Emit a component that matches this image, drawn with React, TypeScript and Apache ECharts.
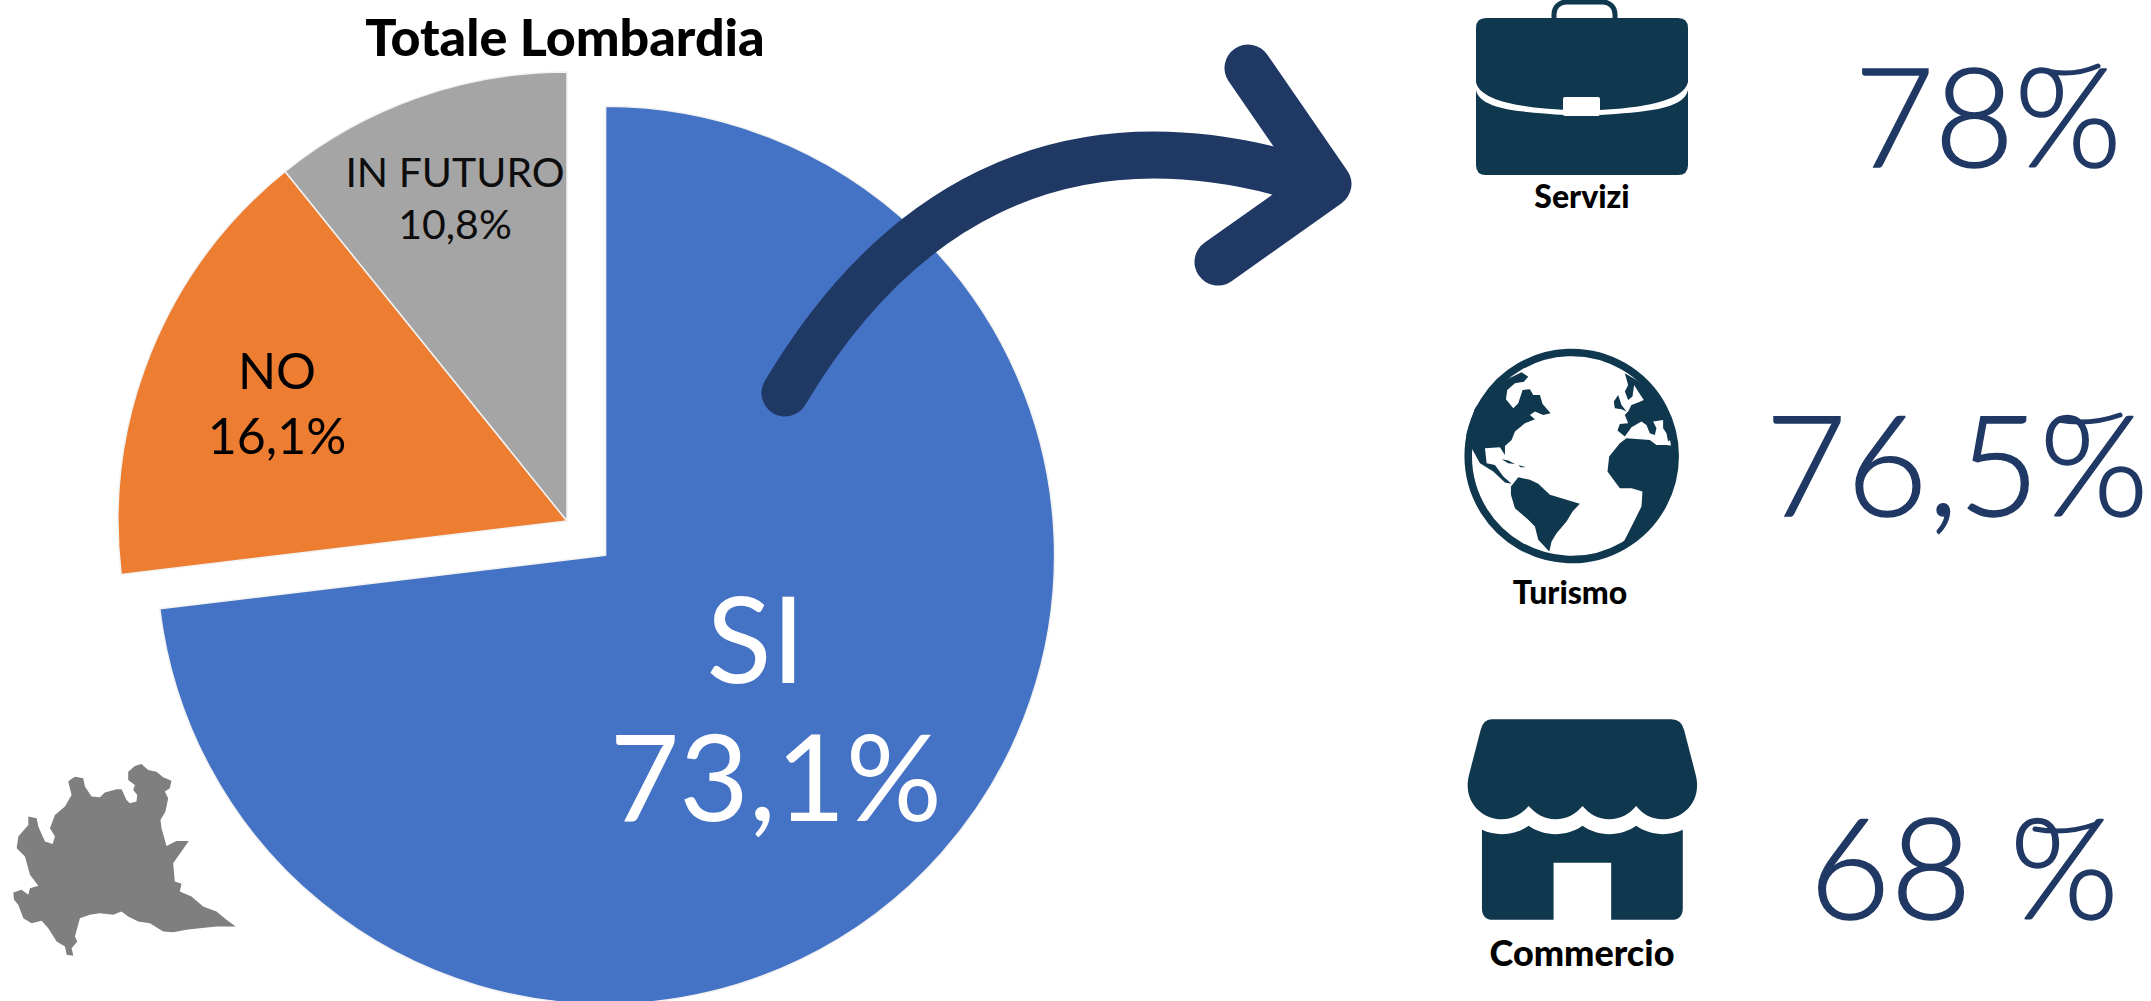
import React, { useEffect, useRef } from "react";
import * as echarts from "echarts";

const categories = ["SI", "NO", "IN FUTURO"];
const shares = [73.1, 16.1, 10.8];
const sliceColors = ["#4472C4", "#ED7D31", "#A5A5A5"];
const labelColors = ["#FFFFFF", "#000000", "#0D0D0D"];
const labelSizes = [120, 50, 41];
const labelLineHeights = [138, 65, 52];
const labelX = [784, 277, 455];
const labelY = [720, 402, 197];

const chartTitle = "Totale Lombardia";
const sectorNames = ["Servizi", "Turismo", "Commercio"];
const sectorValues = ["78%", "76,5%", "68 %"];
const sectorNameX = [1582, 1570, 1582];
const sectorNameY = [195, 591, 952];
const sectorNameSizes = [32, 32, 36];
const sectorValueX = [1988, 1957, 1964];
const sectorValueY = [113, 462, 865];
const sectorValueSizes = [138, 140, 140];
const swashStartX = [2047, 2058, 2035];
const swashEndX = [2098, 2120, 2096];
const swashY = [70, 419, 828];

const ICON = "#0F374E";
const NAVY = "#203864";
const FONT = "Lato, 'Noto Sans', sans-serif";

const LOMBARDY = "M210 120L225 110L250 115L255 140L275 170L300 172L315 158L350 148L365 148L380 180L390 190L410 185L412 165L400 150L405 135L385 120L385 95L405 78L425 72L445 90L470 95L490 112L515 122L510 145L495 155L505 175L497 215L482 240L485 265L495 300L500 318L530 303L567 303L520 370L525 425L545 432L540 455L575 470L610 500L650 515L680 540L708 560L650 560L600 565L560 570L520 577L490 575L450 550L415 545L385 530L365 515L340 525L300 520L270 525L240 535L225 590L232 605L215 625L220 648L200 645L195 620L170 605L145 565L125 543L95 550L70 535L55 495L42 480L40 458L65 450L85 465L90 445L115 438L90 405L75 350L50 325L55 290L85 255L85 230L110 235L115 260L135 305L158 312L165 290L150 265L165 225L195 200L215 165L205 125Z";

const STORE = "M125 58H665Q695 58 703 90L738 225Q742 240 742 255C742 320 690 358 640 358C605 358 578 342 559 318C540 342 510 358 478 358C446 358 418 342 398 318C378 342 350 358 317 358C285 358 258 342 236 318C216 342 190 358 155 358C105 358 53 320 53 255Q53 240 57 225L92 90Q100 58 125 58ZM96 390Q125 403 155 403C185 403 212 395 236 378C260 395 288 403 317 403C346 403 374 395 398 378C422 395 450 403 478 403C508 403 535 395 559 378C583 395 612 403 640 403Q670 403 699 390V625Q699 660 665 660H484V489H311V660H130Q96 660 96 625Z";

const GLOBE_LAND = "M178 115L215 97L235 110L222 125L195 130L172 150L168 178L190 205L205 190L218 150L240 148L250 165L270 165L278 192L302 220L280 225L255 215L240 225L255 238L225 250L195 275L185 300L165 318L165 345L150 322L105 325L110 370L135 375L160 410L185 432L165 428L130 395L90 370L65 325L45 345L50 280L75 205L120 150Z"
  + "M155 358L175 362L195 372L175 370ZM205 375L228 382L212 382Z"
  + "M183 440L205 412L240 420L265 432L300 465L390 492L368 515L350 545L320 580L305 605L298 635L265 600L255 560L235 540L195 505L183 465Z"
  + "M478 350L510 310L530 295L600 300L620 315L650 315L682 320L684 348L678 410L655 470L615 540L560 590L522 606L550 550L575 500L578 455L545 445L510 445L495 425L473 395Z"
  + "M525 100L535 135L525 155L535 180L548 170L553 135L565 155L582 180L565 188L545 195L535 215L525 225L535 250L510 252L503 272L525 290L545 262L575 245L590 255L600 280L615 285L620 265L610 245L640 240L640 265L650 280L655 305L676 290L640 190L600 150L560 120Z"
  + "M492 185L505 165L515 195L530 215L515 208L495 205Z";

const BRIEFCASE_BODY = "M10 0H202Q212 0 212 10V147Q212 157 202 157H10Q0 157 0 147V10Q0 0 10 0Z";
const BRIEFCASE_BAND = "M0 64C4 84 50 90 90 92L90 97C46 94 4 92 0 72ZM212 64C208 84 162 90 124 92L124 97C166 94 208 92 212 72Z";

echarts.graphic.registerShape("lombardy", echarts.graphic.extendPath(LOMBARDY, {}) as any);
echarts.graphic.registerShape("store", echarts.graphic.extendPath(STORE, {}) as any);
echarts.graphic.registerShape("land", echarts.graphic.extendPath(GLOBE_LAND, {}) as any);
echarts.graphic.registerShape("caseBody", echarts.graphic.extendPath(BRIEFCASE_BODY, {}) as any);
echarts.graphic.registerShape("caseBand", echarts.graphic.extendPath(BRIEFCASE_BAND, {}) as any);

export default function App() {
  const ref = useRef<HTMLDivElement>(null);
  useEffect(() => {
    document.body.style.margin = "0";
    const chart = echarts.init(ref.current!, undefined, { renderer: "svg" });
    const arrowStroke = { stroke: "#1F3864", fill: "none", lineWidth: 47, lineCap: "round", lineJoin: "round" };
    const graphics: any[] = [
      { type: "text", z: 5, x: 565, y: 36, style: { text: chartTitle, font: `900 52px ${FONT}`, fill: "#000", align: "center", verticalAlign: "middle" } },
      { type: "lombardy", z: 5, x: 0, y: 740, scaleX: 1 / 3, scaleY: 1 / 3, style: { fill: "#7F7F7F" } },
      { type: "bezierCurve", z: 6, shape: { x1: 785, y1: 393, cpx1: 885, cpy1: 225, cpx2: 1050, cpy2: 95, x2: 1320, y2: 184 }, style: arrowStroke },
      { type: "polyline", z: 6, shape: { points: [[1248, 68], [1328, 184], [1218, 262]] }, style: arrowStroke },
      // briefcase
      { type: "rect", z: 5, shape: { x: 1554, y: 2, width: 61, height: 40, r: 12 }, style: { fill: "none", stroke: ICON, lineWidth: 5 } },
      { type: "caseBody", z: 6, x: 1476, y: 18, style: { fill: ICON } },
      { type: "caseBand", z: 7, x: 1476, y: 18, style: { fill: "#fff" } },
      { type: "rect", z: 7, shape: { x: 1563, y: 97, width: 37, height: 19, r: 2 }, style: { fill: "#fff" } },
      // globe
      { type: "circle", z: 5, shape: { cx: 1571.7, cy: 456, r: 103.5 }, style: { fill: "#fff", stroke: ICON, lineWidth: 7.5 } },
      { type: "land", z: 6, x: 1450, y: 340, scaleX: 1 / 3, scaleY: 1 / 3, style: { fill: ICON } },
      // store
      { type: "store", z: 5, x: 1450, y: 700, scaleX: 1 / 3, scaleY: 1 / 3, style: { fill: ICON } },
    ];
    sectorNames.forEach((name, i) => {
      graphics.push({ type: "text", z: 8, x: sectorNameX[i], y: sectorNameY[i], style: { text: name, font: `900 ${sectorNameSizes[i]}px ${FONT}`, fill: "#000", align: "center", verticalAlign: "middle" } });
    });
    sectorValues.forEach((value, i) => {
      graphics.push({ type: "text", z: 8, x: sectorValueX[i], y: sectorValueY[i], style: { text: value, font: `300 ${sectorValueSizes[i]}px ${FONT}`, fill: NAVY, stroke: NAVY, lineWidth: 1.5, align: "center", verticalAlign: "middle" } });
      graphics.push({
        type: "bezierCurve", z: 8,
        shape: { x1: swashStartX[i], y1: swashY[i] + 1, x2: swashEndX[i], y2: swashY[i] - 4, cpx1: (swashStartX[i] + swashEndX[i]) / 2, cpy1: swashY[i] + 7 },
        style: { stroke: NAVY, fill: "none", lineWidth: 5, lineCap: "round" },
      });
    });
    const fmtValue = (v: number) => `${String(v).replace(".", ",")}%`;
    chart.setOption({
      animation: false,
      backgroundColor: "#fff",
      graphic: graphics,
      series: [
        {
          type: "pie",
          center: [567, 521],
          radius: [0, 449],
          startAngle: 90,
          clockwise: true,
          selectedMode: "single",
          selectedOffset: 51.6,
          avoidLabelOverlap: false,
          emphasis: { disabled: true },
          labelLine: { show: false },
          itemStyle: { borderColor: "#F2F2F2", borderWidth: 1.5 },
          select: { itemStyle: { borderColor: "#F2F2F2", borderWidth: 1.5 } },
          label: {
            show: true,
            position: "inside",
            rotate: 0,
            fontFamily: FONT,
            formatter: (p: any) =>
              p.dataIndex === 0
                ? `{n|${p.name}}\n{v|${fmtValue(p.value)}}`
                : `${p.name}\n${fmtValue(p.value)}`,
            rich: {
              n: { color: "#fff", fontFamily: FONT, fontSize: labelSizes[0], lineHeight: labelLineHeights[0], padding: [0, 40, 0, 0] },
              v: { color: "#fff", fontFamily: FONT, fontSize: labelSizes[0], lineHeight: labelLineHeights[0] },
            },
          },
          labelLayout: (p: any) => ({ x: labelX[p.dataIndex], y: labelY[p.dataIndex], align: "center", verticalAlign: "middle" }),
          data: categories.map((name, i) => ({
            name,
            value: shares[i],
            selected: i === 0,
            itemStyle: { color: sliceColors[i] },
            label: { color: labelColors[i], fontSize: labelSizes[i], lineHeight: labelLineHeights[i] },
            select: { label: { color: labelColors[i], fontSize: labelSizes[i], lineHeight: labelLineHeights[i] } },
          })),
        },
      ],
    });
    return () => chart.dispose();
  }, []);
  return (
    <div style={{ position: "absolute", left: 0, top: 0, width: 2151, height: 1001, overflow: "hidden" }}>
      <div ref={ref} style={{ width: 2151, height: 1001 }} />
    </div>
  );
}
